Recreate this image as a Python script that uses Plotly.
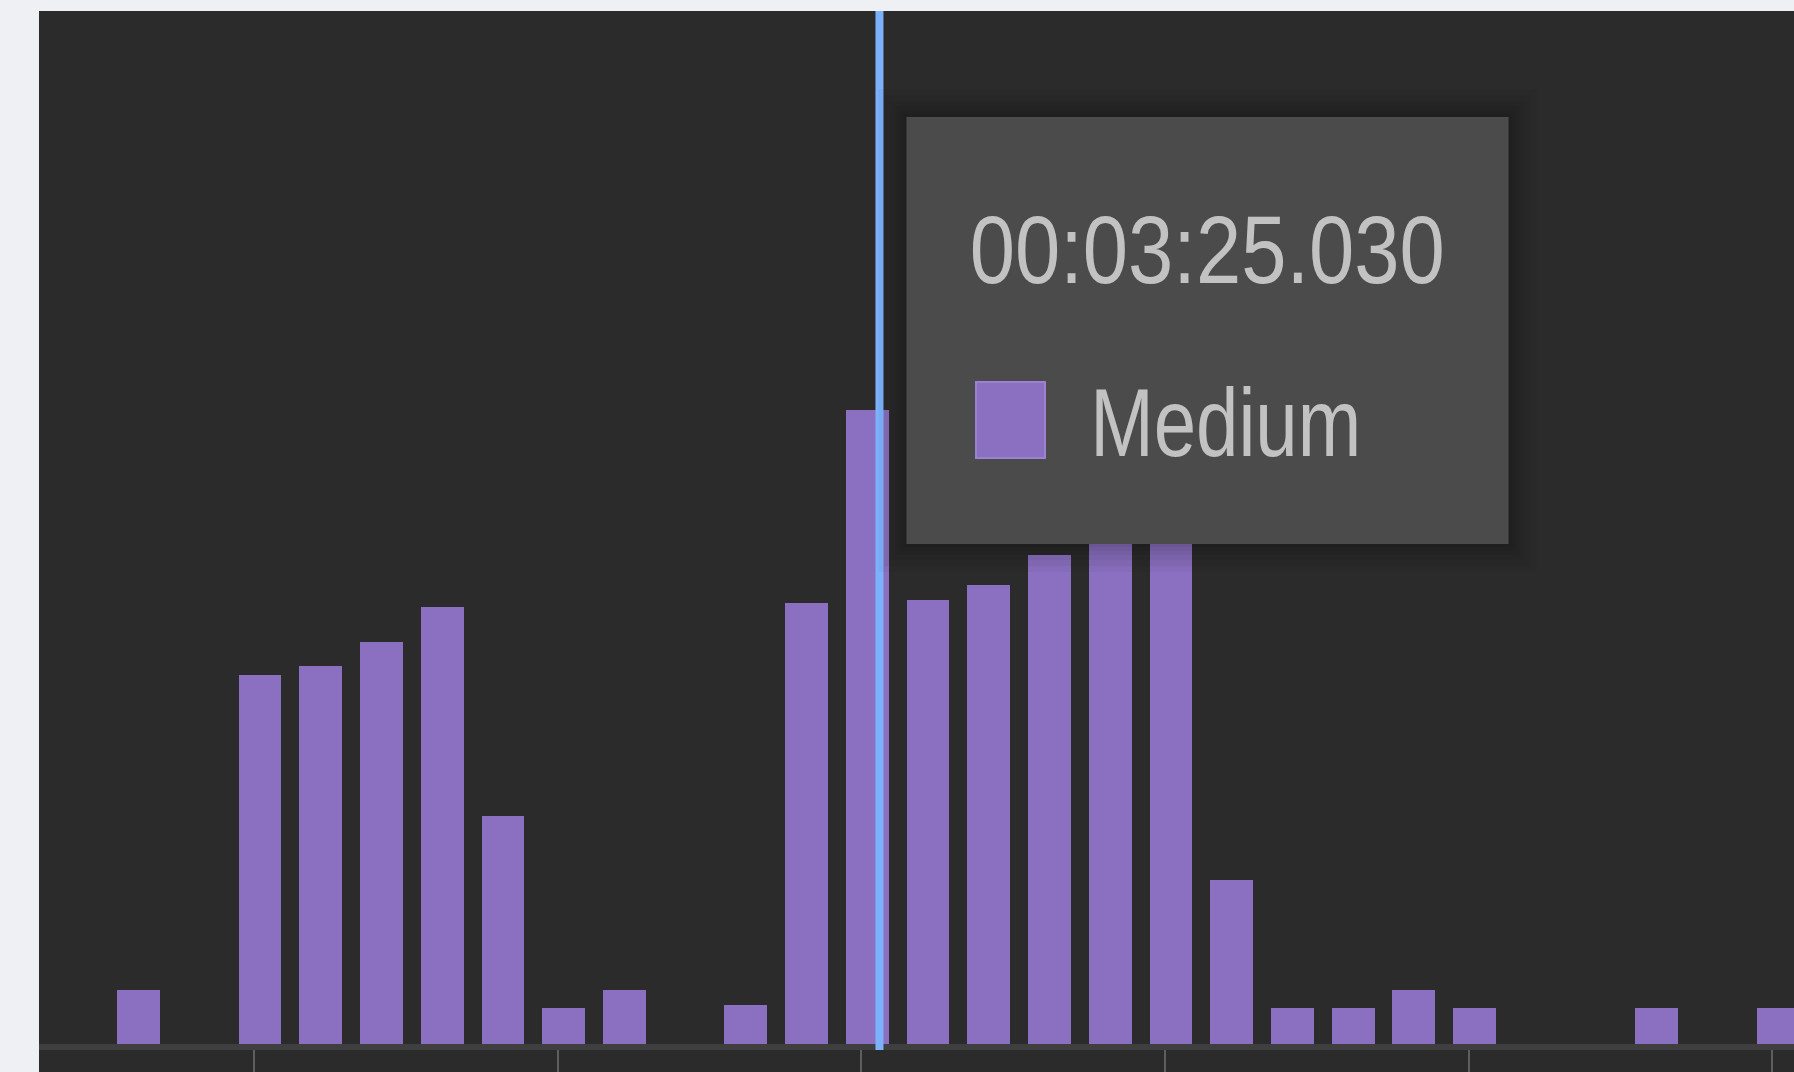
import plotly.graph_objects as go

# ---------------- data ----------------
# bucket times (seconds from start) and counts for the "Medium" series
bucket_time_s = [203.81, 204.01, 204.11, 204.21, 204.31, 204.41, 204.51, 204.61,
                 204.81, 204.91, 205.01, 205.11, 205.21, 205.31, 205.41, 205.51,
                 205.61, 205.71, 205.81, 205.91, 206.01, 206.31, 206.51]
medium_counts = [3.0, 20.7, 21.2, 22.5, 24.5, 12.8, 2.0, 3.0,
                 2.2, 24.7, 35.5, 24.9, 25.7, 27.4, 29.0, 30.0,
                 9.2, 2.0, 2.0, 3.0, 2.0, 2.0, 2.0]
series_name = "Medium"

tick_values_s = [204.0, 204.5, 205.0, 205.5, 206.0, 206.5]
tick_labels = ["00:03:24.000", "00:03:24.500", "00:03:25.000",
               "00:03:25.500", "00:03:26.000", "00:03:26.500"]

cursor_time_s = 205.03
cursor_label = "00:03:25.030"

x_view = [203.646, 206.536]
y_view = [0, 57.87]
bucket_width_s = 0.0705

# ---------------- styling ----------------
W, H = 1794, 1072
ML, MT, MR, MB = 39, 11, 0, 28
PW, PH = W - ML - MR, H - MT - MB

PAGE_BG = "#eef0f3"
PANEL_BG = "#2b2b2b"
BAR = "#8b70c1"
CURSOR = "#7cb2fc"
TIP_BG = "#4a4b4a"
TIP_TEXT = "#c2c2c2"
FONT = "Liberation Sans, Arial, Helvetica, sans-serif"

# rendered (condensed) widths of the tooltip texts, in px
TIME_TEXT_W = 475
NAME_TEXT_W = 271


def px_x(px):
    return (px - ML) / PW


def px_y(py):
    return (H - MB - py) / PH


fig = go.Figure()
fig.add_trace(go.Bar(
    x=bucket_time_s, y=medium_counts, width=bucket_width_s,
    name=series_name, marker=dict(color=BAR, line=dict(width=0)),
    hoverinfo="skip",
))

shapes = []
# dark panel, extending under the axis area
shapes.append(dict(type="rect", xref="paper", yref="paper", x0=0, x1=1.0,
                   y0=-0.2, y1=1.0, fillcolor=PANEL_BG, line=dict(width=0),
                   layer="below"))
# hover cursor line
shapes.append(dict(type="line", xref="x", yref="paper", x0=cursor_time_s,
                   x1=cursor_time_s, y0=-6 / PH, y1=1.0,
                   line=dict(color=CURSOR, width=8), layer="above"))

# tooltip box with soft shadow
bx0, bx1, by0, by1 = 906.5, 1508.6, 117, 544
for grow in (28, 22, 16, 11, 7, 3):
    shapes.append(dict(type="rect", xref="paper", yref="paper",
                       x0=px_x(bx0 - grow), x1=px_x(bx1 + grow),
                       y0=px_y(by1 + grow), y1=px_y(by0 - grow),
                       fillcolor="rgba(0,0,0,0.04)", line=dict(width=0),
                       layer="above"))
shapes.append(dict(type="rect", xref="paper", yref="paper",
                   x0=px_x(bx0), x1=px_x(bx1), y0=px_y(by1), y1=px_y(by0),
                   fillcolor=TIP_BG, line=dict(width=0), layer="above"))
# legend swatch
shapes.append(dict(type="rect", xref="paper", yref="paper",
                   x0=px_x(976), x1=px_x(1045), y0=px_y(458), y1=px_y(382),
                   fillcolor=BAR, line=dict(color="#9a82d2", width=2),
                   layer="above"))

annotations = [
    dict(text=cursor_label, xref="paper", yref="paper",
         x=px_x(970 + TIME_TEXT_W / 2), y=px_y(249.5),
         xanchor="center", yanchor="middle", showarrow=False,
         font=dict(family=FONT, size=96, color=TIP_TEXT)),
    dict(text=series_name, xref="paper", yref="paper",
         x=px_x(1090 + NAME_TEXT_W / 2), y=px_y(422.5),
         xanchor="center", yanchor="middle", showarrow=False,
         font=dict(family=FONT, size=96, color=TIP_TEXT)),
]

fig.update_layout(
    width=W, height=H, autosize=False,
    template="none",
    margin=dict(l=ML, r=MR, t=MT, b=MB, pad=0),
    paper_bgcolor=PAGE_BG, plot_bgcolor=PANEL_BG,
    showlegend=False, bargap=0,
    shapes=shapes, annotations=annotations,
    xaxis=dict(range=x_view, tickmode="array", tickvals=tick_values_s,
               ticktext=tick_labels, showticklabels=False, showgrid=False,
               zeroline=False, showline=True, linecolor="#3f3f3f",
               linewidth=6, ticks="outside", ticklen=40, tickwidth=2,
               tickcolor="#5e5e5e", automargin=False, fixedrange=True),
    yaxis=dict(range=y_view, showgrid=False, zeroline=False, showline=False,
               showticklabels=False, ticks="", automargin=False,
               fixedrange=True),
    font=dict(family=FONT),
)

post_js = """
document.documentElement.style.margin = '0';
document.documentElement.style.overflow = 'hidden';
document.body.style.margin = '0';
document.body.style.overflow = 'hidden';
document.body.style.background = '%s';
var gd = document.getElementById('{plot_id}');
var widths = [%d, %d];
var texts = gd.querySelectorAll('.annotation-text');
for (var i = 0; i < texts.length && i < widths.length; i++) {
    texts[i].setAttribute('textLength', widths[i]);
    texts[i].setAttribute('lengthAdjust', 'spacingAndGlyphs');
}
""" % (PAGE_BG, TIME_TEXT_W, NAME_TEXT_W)

fig.write_html("out.html", config={"displayModeBar": False},
               post_script=post_js)
